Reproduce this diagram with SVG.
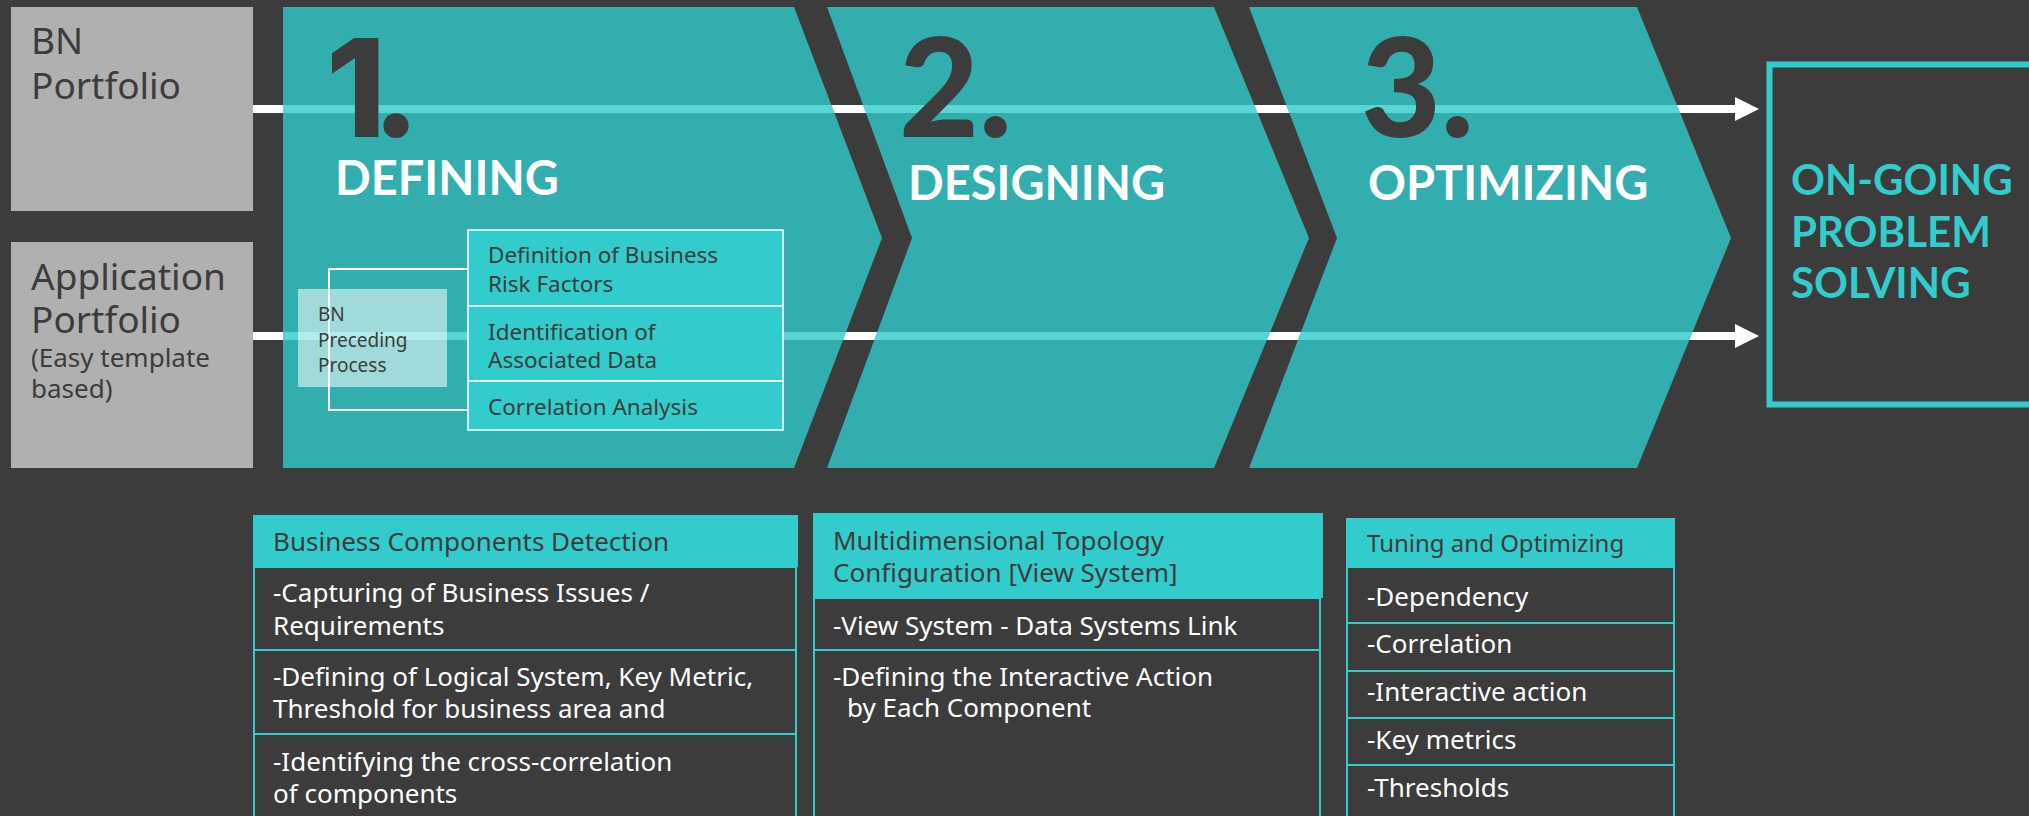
<svg xmlns="http://www.w3.org/2000/svg" width="2029" height="816" viewBox="0 0 2029 816">
<style>
.gray{fill:#b0b0b0}
.gt{font-family:"Noto Sans","Open Sans",sans-serif;fill:#3c3c3c}
.big{font-size:37px}
.small{font-size:26px}
.panel{fill:#33aeae}
.num{font-family:Lato,"Noto Sans",sans-serif;font-weight:900;font-size:138px;fill:#3c3c3c}
.num1{font-family:Inter,Lato,"Noto Sans",sans-serif;font-weight:800;font-size:136px;fill:#3c3c3c}
.head{font-family:Lato,"Noto Sans",sans-serif;font-weight:bold;font-size:47px;fill:#ffffff}
.og{font-family:Lato,"Noto Sans",sans-serif;font-weight:bold;font-size:42px;fill:#33cccc}
.cell{fill:#33cccc;stroke:#ffffff;stroke-width:1.5}
.ct{font-family:"Noto Sans","Open Sans",sans-serif;font-size:22.5px;fill:#3c3c3c}
.bt{font-family:"Noto Sans","Open Sans",sans-serif;font-size:19px;fill:#3c3c3c}
.th{fill:#33cccc}
.tr{fill:none;stroke:#33cccc;stroke-width:2}
.tht{font-family:"Noto Sans","Open Sans",sans-serif;font-size:26px;fill:#3c3c3c}
.tht3{font-family:"Noto Sans","Open Sans",sans-serif;font-size:24px;fill:#3c3c3c}
.trt{font-family:"Noto Sans","Open Sans",sans-serif;font-size:26px;fill:#ffffff}
.wl{fill:#ffffff}
.cl{fill:#58d5d5}
</style>
<defs>
<clipPath id="panels">
<polygon points="283,7 794,7 882,238 794,468 283,468"/>
<polygon points="827,7 1214,7 1309,238 1214,468 827,468 912,238"/>
<polygon points="1249,7 1637,7 1731,238 1637,468 1249,468 1337,238"/>
</clipPath>
</defs>
<rect x="0" y="0" width="2029" height="816" fill="#3c3c3c"/>

<g id="bn-portfolio">
<rect class="gray" x="11" y="7" width="242" height="204"/>
<text class="gt big" x="31" y="54">BN</text>
<text class="gt big" x="31" y="99">Portfolio</text>
</g>
<g id="application-portfolio">
<rect class="gray" x="11" y="242" width="242" height="226"/>
<text class="gt big" x="31" y="290">Application</text>
<text class="gt big" x="31" y="333">Portfolio</text>
<text class="gt small" x="31" y="367">(Easy template</text>
<text class="gt small" x="31" y="398">based)</text>
</g>

<g id="connectors-under">
<rect class="wl" x="253" y="105" width="1484" height="8"/>
<rect class="wl" x="253" y="332" width="1484" height="8"/>
</g>

<g id="step-1-panel"><polygon class="panel" points="283,7 794,7 882,238 794,468 283,468"/></g>
<g id="step-2-panel"><polygon class="panel" points="827,7 1214,7 1309,238 1214,468 827,468 912,238"/></g>
<g id="step-3-panel"><polygon class="panel" points="1249,7 1637,7 1731,238 1637,468 1249,468 1337,238"/></g>

<g id="connectors">
<g clip-path="url(#panels)">
<rect class="cl" x="253" y="105" width="1484" height="8"/>
<rect class="cl" x="253" y="332" width="1484" height="8"/>
</g>
<polygon class="wl" points="1735,97 1759,109 1735,121"/>
<polygon class="wl" points="1735,324 1759,336 1735,348"/>
<polyline points="468,269 329,269 329,410 468,410" fill="none" stroke="#ffffff" stroke-width="2"/>
</g>

<g id="step-1">
<text class="num1" x="326" y="137">1<tspan x="372">.</tspan></text>
<text class="head" x="335" y="195">DEFINING</text>
</g>
<g id="bn-preceding-process">
<rect x="298" y="289" width="149" height="98" fill="#ffffff" fill-opacity="0.54"/>
<text class="bt" x="318" y="321">BN</text>
<text class="bt" x="318" y="347">Preceding</text>
<text class="bt" x="318" y="372">Process</text>
</g>
<g id="definition-risk">
<rect class="cell" x="468" y="230" width="315" height="76"/>
<text class="ct" x="488" y="263">Definition of Business</text>
<text class="ct" x="488" y="292">Risk Factors</text>
</g>
<g id="identification-data">
<rect class="cell" x="468" y="306" width="315" height="75"/>
<text class="ct" x="488" y="340">Identification of</text>
<text class="ct" x="488" y="368">Associated Data</text>
</g>
<g id="correlation-analysis">
<rect class="cell" x="468" y="381" width="315" height="49"/>
<text class="ct" x="488" y="415">Correlation Analysis</text>
</g>

<g id="step-2">
<text class="num" x="899" y="137">2.</text>
<text class="head" x="908" y="200">DESIGNING</text>
</g>
<g id="step-3">
<text class="num" x="1361" y="137">3.</text>
<text class="head" x="1368" y="200">OPTIMIZING</text>
</g>

<g id="on-going">
<rect x="1769.5" y="64.5" width="300" height="340" fill="none" stroke="#33cccc" stroke-width="6"/>
<text class="og" x="1791" y="195">ON-GOING</text>
<text class="og" x="1791" y="247">PROBLEM</text>
<text class="og" x="1791" y="298">SOLVING</text>
</g>

<g id="business-components">
<rect class="th" x="253" y="515" width="545" height="52"/>
<text class="tht" x="273" y="551">Business Components Detection</text>
<rect class="tr" x="254" y="567" width="542" height="83"/>
<text class="trt" x="273" y="602">-Capturing of Business Issues /</text>
<text class="trt" x="273" y="635">Requirements</text>
<rect class="tr" x="254" y="650" width="542" height="84"/>
<text class="trt" x="273" y="686">-Defining of Logical System, Key Metric,</text>
<text class="trt" x="273" y="718">Threshold for business area and</text>
<rect class="tr" x="254" y="734" width="542" height="100"/>
<text class="trt" x="273" y="771">-Identifying the cross-correlation</text>
<text class="trt" x="273" y="803">of components</text>
</g>

<g id="topology-configuration">
<rect class="th" x="813" y="513" width="510" height="85"/>
<text class="tht" x="833" y="550">Multidimensional Topology</text>
<text class="tht" x="833" y="582">Configuration [View System]</text>
<rect class="tr" x="814" y="598" width="506" height="52"/>
<text class="trt" x="833" y="635">-View System - Data Systems Link</text>
<rect class="tr" x="814" y="650" width="506" height="184"/>
<text class="trt" x="833" y="686">-Defining the Interactive Action</text>
<text class="trt" x="847" y="717">by Each Component</text>
</g>

<g id="tuning-optimizing">
<rect class="th" x="1346" y="518" width="329" height="49"/>
<text class="tht3" x="1367" y="552">Tuning and Optimizing</text>
<rect class="tr" x="1347" y="567" width="327" height="56"/>
<text class="trt" x="1367" y="606">-Dependency</text>
<rect class="tr" x="1347" y="623" width="327" height="48"/>
<text class="trt" x="1367" y="653">-Correlation</text>
<rect class="tr" x="1347" y="671" width="327" height="47"/>
<text class="trt" x="1367" y="701">-Interactive action</text>
<rect class="tr" x="1347" y="718" width="327" height="47"/>
<text class="trt" x="1367" y="749">-Key metrics</text>
<rect class="tr" x="1347" y="765" width="327" height="69"/>
<text class="trt" x="1367" y="797">-Thresholds</text>
</g>
</svg>
